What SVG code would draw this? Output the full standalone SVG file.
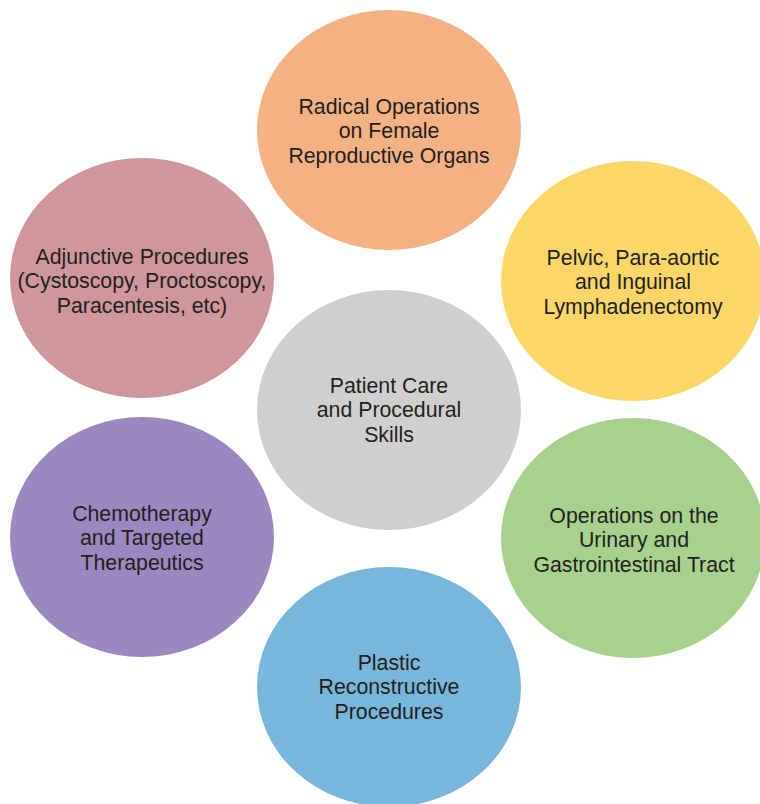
<svg xmlns="http://www.w3.org/2000/svg" width="760" height="804" viewBox="0 0 760 804">
<style>
.t{font-family:"Liberation Sans",Arial,Helvetica,sans-serif;font-size:21.3px;fill:#231f20;text-anchor:middle}
</style>
<rect width="760" height="804" fill="#ffffff"/>
<g id="connectors"></g>
<g id="n-radical">
<ellipse cx="389" cy="130" rx="132" ry="120" fill="#F4B183"/>
<text class="t" x="389" y="113.5">Radical Operations</text>
<text class="t" x="389" y="138">on Female</text>
<text class="t" x="389" y="162.5">Reproductive Organs</text>
</g>
<g id="n-pelvic">
<ellipse cx="633" cy="281" rx="132" ry="120" fill="#FDD668"/>
<text class="t" x="633" y="264.5">Pelvic, Para-aortic</text>
<text class="t" x="633" y="289">and Inguinal</text>
<text class="t" x="633" y="313.5">Lymphadenectomy</text>
</g>
<g id="n-adjunctive">
<ellipse cx="142" cy="278" rx="132" ry="120" fill="#CF969B"/>
<text class="t" x="142" y="263.5">Adjunctive Procedures</text>
<text class="t" x="142" y="288">(Cystoscopy, Proctoscopy,</text>
<text class="t" x="142" y="312.5">Paracentesis, etc)</text>
</g>
<g id="n-center">
<ellipse cx="389" cy="410" rx="132" ry="120" fill="#D0CFCE"/>
<text class="t" x="389" y="392.5">Patient Care</text>
<text class="t" x="389" y="417">and Procedural</text>
<text class="t" x="389" y="441.5">Skills</text>
</g>
<g id="n-chemo">
<ellipse cx="142" cy="537" rx="132" ry="120" fill="#9B88C0"/>
<text class="t" x="142" y="520.5">Chemotherapy</text>
<text class="t" x="142" y="545">and Targeted</text>
<text class="t" x="142" y="569.5">Therapeutics</text>
</g>
<g id="n-urinary">
<ellipse cx="633" cy="538" rx="132" ry="120" fill="#A9D18E"/>
<text class="t" x="634" y="522.5">Operations on the</text>
<text class="t" x="634" y="547">Urinary and</text>
<text class="t" x="634" y="571.5">Gastrointestinal Tract</text>
</g>
<g id="n-plastic">
<ellipse cx="389" cy="687" rx="132" ry="120" fill="#79B6DC"/>
<text class="t" x="389" y="669.5">Plastic</text>
<text class="t" x="389" y="694">Reconstructive</text>
<text class="t" x="389" y="718.5">Procedures</text>
</g>
</svg>
